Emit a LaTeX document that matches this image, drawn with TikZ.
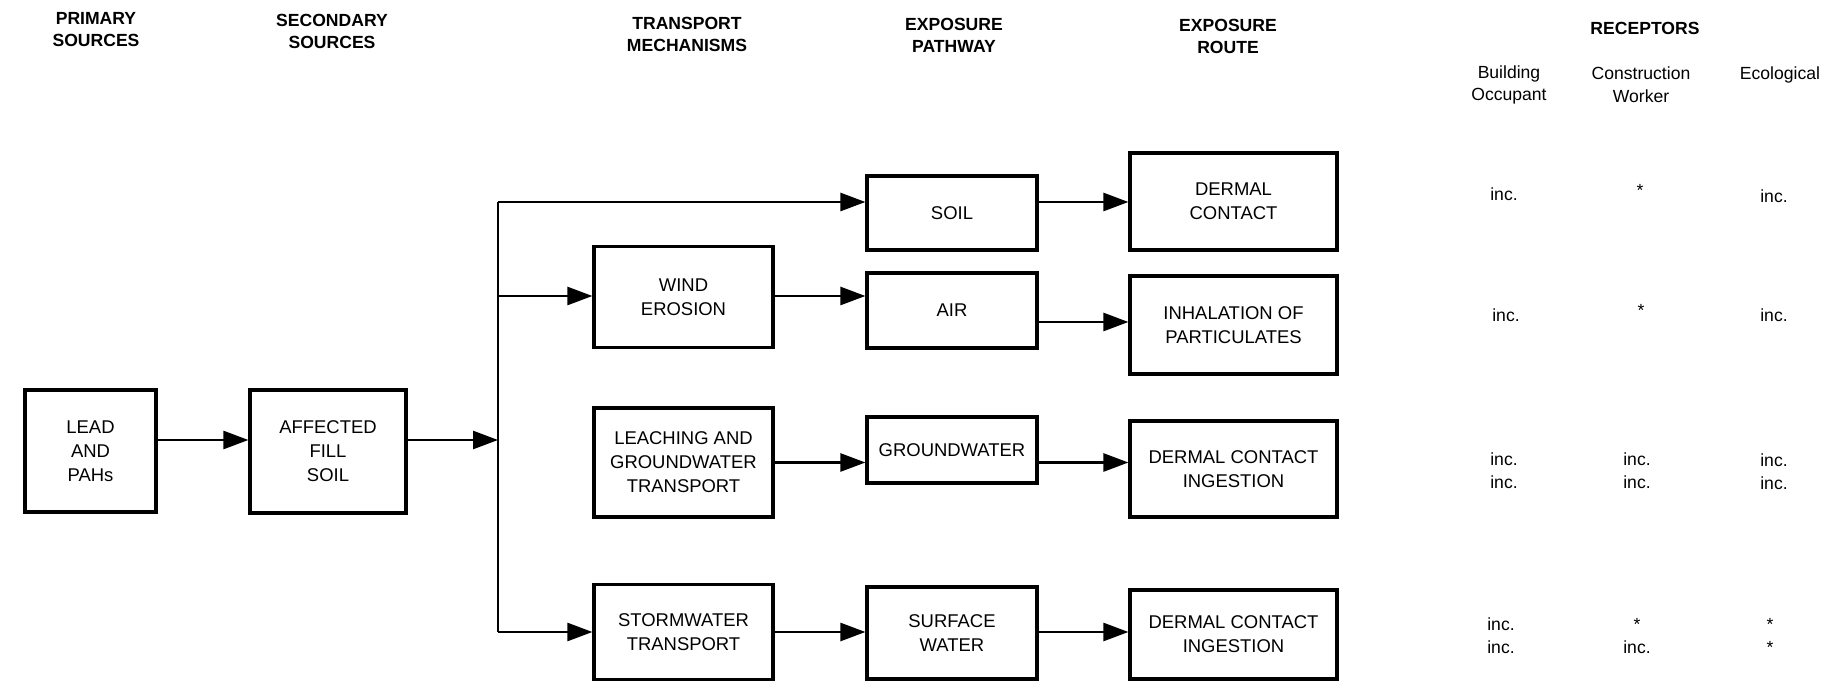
\documentclass[tikz,border=0pt]{standalone}
\usepackage{fontspec}
\setmainfont{Liberation Sans}
\usetikzlibrary{arrows.meta}
\tikzset{
  box/.style={draw, line width=1.8pt, align=center, inner sep=0pt,
    font=\fontsize{10.5}{13.6}\selectfont},
  head/.style={align=center, font=\bfseries\fontsize{10}{12.5}\selectfont},
  recp/.style={align=center, font=\fontsize{10}{13}\selectfont},
  flow/.style={line width=1.5pt, -{Triangle[length=5mm,width=3.6mm]}},
  trunk/.style={line width=1.5pt},
}

\begin{document}
\begin{tikzpicture}[x=0.2mm,y=-0.2mm]
  \useasboundingbox (0,0) rectangle (1842,681);

  % headings
  \node[head] (hprim) at (96,30) {PRIMARY\\SOURCES};
  \node[head] (hsec) at (332,31) {SECONDARY\\SOURCES};
  \node[head] (htrans) at (687,34) {TRANSPORT\\MECHANISMS};
  \node[head] (hpath) at (954,35) {EXPOSURE\\PATHWAY};
  \node[head] (hroute) at (1228,36) {EXPOSURE\\ROUTE};
  \node[head] (hrec) at (1645,28) {RECEPTORS};
  \node[recp] (hbuild) at (1509,85) {Building\\Occupant};
  \node[recp] (hcons) at (1641,85) {Construction\\Worker};
  \node[recp] (heco) at (1780,75) {Ecological};

  % sources
  \node[box, minimum width=26.2mm, minimum height=24.4mm] (lead) at (90.5,451) {LEAD\\AND\\PAHs};
  \node[box, minimum width=31.2mm, minimum height=24.6mm] (fill) at (328,451.5) {AFFECTED\\FILL\\SOIL};

  % transport mechanisms
  \node[box, minimum width=35.8mm, minimum height=20.2mm] (wind) at (683.5,297) {WIND\\EROSION};
  \node[box, minimum width=35.8mm, minimum height=21.8mm] (leach) at (683.5,462.5) {LEACHING AND\\GROUNDWATER\\TRANSPORT};
  \node[box, minimum width=35.8mm, minimum height=19mm] (storm) at (683.5,632) {STORMWATER\\TRANSPORT};

  % exposure pathways
  \node[box, minimum width=34mm, minimum height=14.8mm] (soil) at (952,213) {SOIL};
  \node[box, minimum width=34mm, minimum height=15mm] (air) at (952,310.5) {AIR};
  \node[box, minimum width=34mm, minimum height=13.2mm] (gw) at (952,450) {GROUNDWATER};
  \node[box, minimum width=34mm, minimum height=18.4mm] (sw) at (952,633) {SURFACE\\WATER};

  % exposure routes
  \node[box, minimum width=41.4mm, minimum height=19.4mm] (dermal) at (1233.5,201.5) {DERMAL\\CONTACT};
  \node[box, minimum width=41.4mm, minimum height=19.6mm] (inhal) at (1233.5,325) {INHALATION OF\\PARTICULATES};
  \node[box, minimum width=41.4mm, minimum height=19.2mm] (gwroute) at (1233.5,469) {DERMAL CONTACT\\INGESTION};
  \node[box, minimum width=41.4mm, minimum height=17.8mm] (swroute) at (1233.5,634.5) {DERMAL CONTACT\\INGESTION};

  % connectors
  \coordinate (jtop) at (498,202);
  \coordinate (jwind) at (498,296);
  \coordinate (jin) at (498,440);
  \coordinate (jbot) at (498,632);
  \draw[trunk] (jtop) -- (jbot);
  \draw[flow] (lead.east |- jin) -- (fill.west |- jin);
  \draw[flow] (fill.east |- jin) -- (jin);
  \draw[flow] (jtop) -- (soil.west |- jtop);
  \draw[flow] (jwind) -- (wind.west |- jwind);
  \draw[flow] (jbot) -- (storm.west);
  \draw[flow] (soil.east |- jtop) -- (dermal.west |- jtop);
  \draw[flow] (wind.east |- jwind) -- (air.west |- jwind);
  \draw[flow] (air.east |- 0,322) -- (inhal.west |- 0,322);
  \draw[flow] (leach.east) -- (gw.west |- leach.east);
  \draw[flow] (gw.east |- leach.east) -- (gwroute.west |- leach.east);
  \draw[flow] (storm.east) -- (sw.west |- storm.east);
  \draw[flow] (sw.east |- storm.east) -- (swroute.west |- storm.east);

  % receptors
  \node[recp] (b1) at (1504,194) {inc.};
  \node[recp] (c1) at (1640,190) {*};
  \node[recp] (e1) at (1774,196) {inc.};
  \node[recp] (b2) at (1506,315) {inc.};
  \node[recp] (c2) at (1641,310) {*};
  \node[recp] (e2) at (1774,315) {inc.};
  \node[recp] (b3) at (1504,471) {inc.\\inc.};
  \node[recp] (c3) at (1637,471) {inc.\\inc.};
  \node[recp] (e3) at (1774,472) {inc.\\inc.};
  \node[recp] (b4) at (1501,636) {inc.\\inc.};
  \node[recp] (c4) at (1637,636) {*\\inc.};
  \node[recp] (e4) at (1770,636) {*\\*};
\end{tikzpicture}
\end{document}
